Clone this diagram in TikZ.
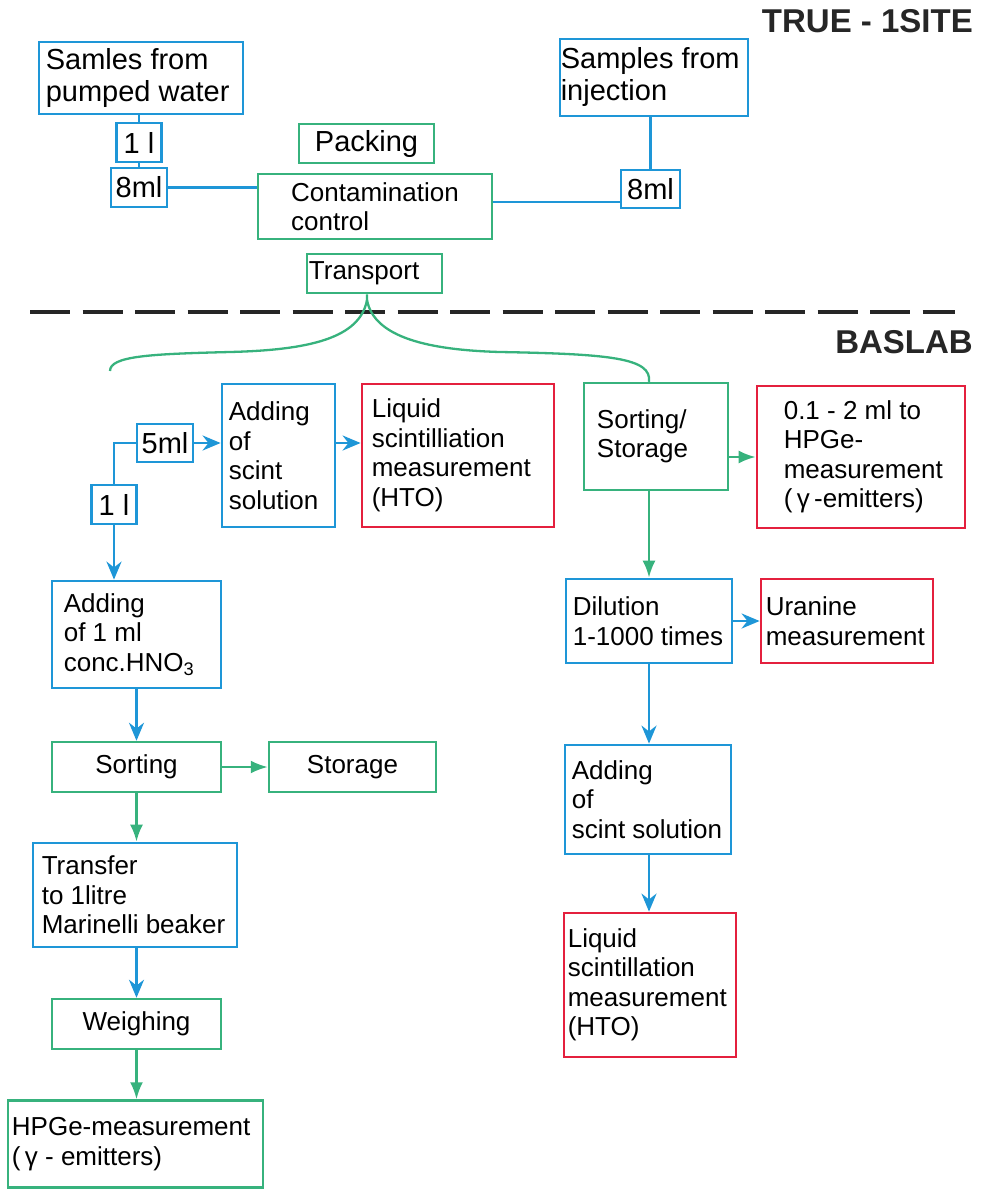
\documentclass[tikz,border=0pt]{standalone}
\usepackage{fontspec}
\setmainfont{Liberation Sans}
\usetikzlibrary{arrows.meta,positioning}

\definecolor{labblue}{RGB}{30,150,215}
\definecolor{labgreen}{RGB}{55,178,125}
\definecolor{labred}{RGB}{228,32,62}

\begin{document}
\begin{tikzpicture}[x=1pt, y=-1pt,
		bbox/.style={draw=labblue, line width=2.8pt, inner sep=0pt},
		gbox/.style={draw=labgreen, line width=2.5pt, inner sep=0pt},
		rbox/.style={draw=labred, line width=2.8pt, inner sep=0pt},
		txt/.style={align=left, inner sep=0pt, font=\fontsize{26}{29.5}\selectfont},
		big/.style={font=\fontsize{29}{32}\selectfont},
		head/.style={anchor=base east, inner sep=0pt, font=\bfseries\fontsize{33}{36}\selectfont, text=black!85},
		bline/.style={draw=labblue, line width=2.6pt},
		gline/.style={draw=labgreen, line width=2.3pt},
		barrow/.style={bline, -{Stealth[length=18pt, width=15pt]}},
		garrow/.style={gline, -{Latex[length=17pt, width=13pt]}}]
		\useasboundingbox (0,0) rectangle (981,1191);
		
		% Headings
		\node[head] (site) at (973,32) {TRUE - 1SITE};
		\node[head] (lab) at (973,353) {BASLAB};
		
		% --- Site part ---
		\node[bbox, minimum width=204pt, minimum height=72pt] (sp) at (141,78) {};
		\node[txt, big, right=8pt of sp.west] (sptxt) {Samles from\\pumped water};
		\node[bbox, txt, big, minimum width=45pt, minimum height=39pt] (la) at (139,142.5) {1 l};
		\node[bbox, txt, big, minimum width=56pt, minimum height=39pt] (ml) at (139,187.5) {8ml};
		\node[gbox, txt, big, minimum width=135pt, minimum height=39pt] (pk) at (366.5,143.5) {Packing};
		\node[gbox, txt, minimum width=234pt, minimum height=65pt] (cc) at (375,206.5) {Contamination\\control};
		\node[gbox, minimum width=135pt, minimum height=39pt] (tr) at (374.5,273.5) {};
		\node[txt, right=3pt of tr.west] (trtxt) {Transport};
		\node[bbox, minimum width=188pt, minimum height=77pt] (sj) at (654,77.5) {};
		\node[txt, big, right=2pt of sj.west] (sjtxt) {Samples from\\injection};
		\node[bbox, txt, big, minimum width=59pt, minimum height=38pt] (mr) at (650.5,189) {8ml};
		
		\draw[bline] (la.north |- sp.south) -- (la.north);
		\draw[bline] (la.south) -- (ml.north);
		\draw[bline] (ml.east) -- (ml.east -| cc.west);
		\draw[bline] ([yshift=4.5pt]cc.east) -- ([yshift=4.5pt]cc.east -| mr.west);
		\draw[bline] (mr.north |- sj.south) -- (mr.north);
		
		% Border between site and lab
		\coordinate (dl) at (30,312);
		\coordinate (dr) at (955,312);
		\draw[line width=3.8pt, dash pattern=on 40pt off 12.5pt, black!85] (dl) -- (dr);
		
		% --- Lab part ---
		\node[bbox, txt, big, minimum width=56pt, minimum height=38pt] (f5) at (165,443) {5ml};
		\node[bbox, txt, big, minimum width=45pt, minimum height=39pt] (ll) at (114,504.5) {1 l};
		\node[bbox, minimum width=113pt, minimum height=143pt] (as) at (278.5,455.5) {};
		\node[txt, right=8pt of as.west] (astxt) {Adding\\of\\scint\\solution};
		\node[rbox, minimum width=192pt, minimum height=143pt] (lq) at (458,455.5) {};
		\node[txt, right=11pt of lq.west] (lqtxt) {Liquid\\scintilliation\\measurement\\(HTO)};
		\node[gbox, minimum width=144pt, minimum height=107pt] (ss) at (656,436.5) {};
		\node[txt, right=14pt of ss.west] (sstxt) {Sorting/\\Storage};
		\node[rbox, minimum width=208pt, minimum height=142pt] (hp) at (861,457) {};
		\node[txt, right=28pt of hp.west] (hptxt) {0.1 - 2 ml to\\HPGe-\\measurement\\(\,γ\,-emitters)};
		
		% left branch
		\node[bbox, minimum width=169pt, minimum height=107pt] (a1) at (136.5,634.5) {};
		\node[txt, right=13pt of a1.west] (a1txt) {Adding\\of 1 ml\\conc.HNO\textsubscript{3}};
		\node[gbox, txt, minimum width=169pt, minimum height=50pt] (so) at (136.5,767) {Sorting};
		\node[gbox, txt, minimum width=167pt, minimum height=50pt] (st) at (352.5,767) {Storage};
		\node[bbox, minimum width=204pt, minimum height=104pt] (tf) at (135,895) {};
		\node[txt, right=10pt of tf.west] (tftxt) {Transfer\\to 1litre\\Marinelli beaker};
		\node[gbox, txt, minimum width=169pt, minimum height=50pt] (we) at (136.5,1024) {Weighing};
		\node[gbox, minimum width=255pt, minimum height=87pt] (hg) at (135.5,1144) {};
		\node[txt, right=5pt of hg.west] (hgtxt) {HPGe-measurement\\(\,γ - emitters)};
		
		% right branch
		\node[bbox, minimum width=166pt, minimum height=84pt] (di) at (649,621) {};
		\node[txt, right=8pt of di.west] (ditxt) {Dilution\\1-1000 times};
		\node[rbox, minimum width=172pt, minimum height=84pt] (ur) at (847,621) {};
		\node[txt, right=6pt of ur.west] (urtxt) {Uranine\\measurement};
		\node[bbox, minimum width=166pt, minimum height=109pt] (ar) at (648,799.5) {};
		\node[txt, right=8pt of ar.west] (artxt) {Adding\\of\\scint solution};
		\node[rbox, minimum width=172pt, minimum height=144pt] (lr) at (650,985) {};
		\node[txt, right=5pt of lr.west] (lrtxt) {Liquid\\scintillation\\measurement\\(HTO)};
		
		% Brace from transport
		\coordinate (fork) at (367,300);
		\coordinate (bl) at (110,371);
		\draw[gline] (fork |- tr.south) -- (fork) .. controls (360,338) and (310,350) .. (230,352)
			.. controls (150,354) and (110,356) .. (bl);
		\draw[gline] (fork) .. controls (374,338) and (430,350) .. (500,352)
			.. controls (610,354) and (652,358) .. (ss.north -| di.north);
		
		% Arrows
		\draw[bline] (f5.west) -| (ll.north);
		\draw[barrow] (f5.east) -- (f5.east -| as.west);
		\draw[barrow] (f5.east -| as.east) -- (f5.east -| lq.west);
		\draw[garrow] (ss.east |- hp.west) -- (hp.west);
		\draw[barrow] (ll.south) -- (ll.south |- a1.north);
		\draw[barrow] (a1.south) -- (a1.south |- so.north);
		\draw[garrow] (so.east) -- (st.west);
		\draw[garrow] (so.south) -- (so.south |- tf.north);
		\draw[barrow] (tf.south -| so.south) -- (so.south |- we.north);
		\draw[garrow] (we.south) -- (we.south |- hg.north);
		\draw[garrow] (di.north |- ss.south) -- (di.north);
		\draw[barrow] (di.east) -- (ur.west);
		\draw[barrow] (di.south) -- (di.south |- ar.north);
		\draw[barrow] (ar.south -| di.south) -- (di.south |- lr.north);
		
	\end{tikzpicture}
\end{document}
